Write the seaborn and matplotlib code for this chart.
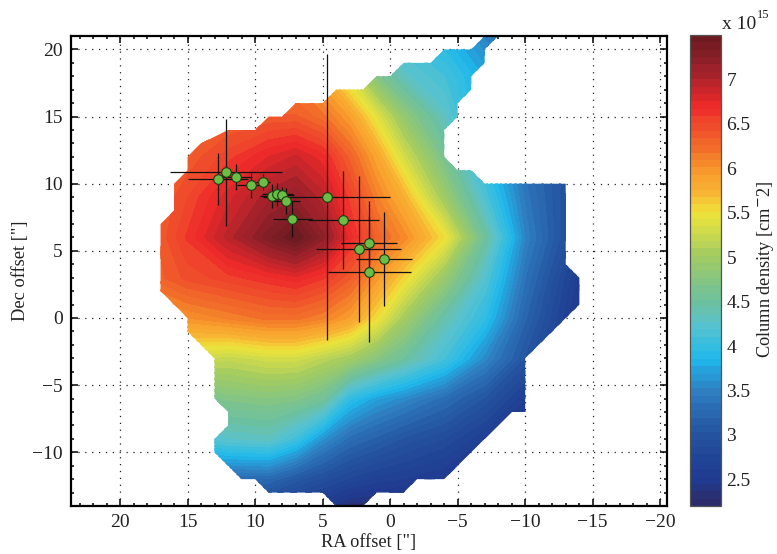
# column density map with clump positions
import numpy as np
import pandas as pd
import matplotlib
matplotlib.use("Agg")
import matplotlib.pyplot as plt
import seaborn as sns
from matplotlib.colors import LinearSegmentedColormap
from matplotlib.patches import Polygon
from matplotlib.ticker import MultipleLocator

ra_grid = [18, 15, 12, 9, 7, 5, 3, 1, -1, -4, -7, -10, -14]
dec_grid = [21, 18, 15, 12, 9, 6, 3, 0, -3, -6, -9, -12, -14]

row_p21 = [6.0, 6.0, 6.0, 6.0, 5.8, 5.3, 4.8, 4.3, 4.05, 3.85, 3.5, 3.2, 2.9]
row_p18 = [6.1, 6.1, 6.15, 6.15, 6.1, 5.8, 5.3, 4.7, 4.3, 4.1, 3.75, 3.25, 2.9]
row_p15 = [6.15, 6.2, 6.3, 6.35, 6.35, 6.2, 5.9, 5.4, 4.85, 4.3, 3.7, 3.2, 2.9]
row_p12 = [6.2, 6.35, 6.55, 6.75, 6.85, 6.7, 6.3, 5.85, 5.3, 4.6, 3.9, 3.3, 2.9]
row_p9 = [6.25, 6.5, 6.8, 7.05, 7.15, 6.95, 6.55, 6.1, 5.75, 4.95, 4.15, 3.4, 2.8]
row_p6 = [6.25, 6.6, 6.95, 7.3, 7.5, 7.2, 6.7, 6.3, 6.05, 5.5, 4.5, 3.5, 2.75]
row_p3 = [6.25, 6.45, 6.55, 6.65, 6.72, 6.6, 6.35, 5.95, 5.55, 4.9, 4.2, 3.35, 2.55]
row_0 = [5.85, 6.0, 6.1, 6.2, 6.2, 6.1, 5.9, 5.5, 5.0, 4.4, 3.95, 3.2, 2.45]
row_m3 = [5.4, 5.3, 5.2, 5.3, 5.3, 5.15, 5.0, 4.75, 4.5, 4.1, 3.55, 3.0, 2.4]
row_m6 = [4.4, 4.5, 4.7, 4.75, 4.7, 4.55, 3.95, 3.7, 3.55, 3.3, 3.0, 2.6, 2.25]
row_m9 = [4.0, 4.1, 4.25, 4.3, 4.05, 3.6, 3.3, 3.15, 3.0, 2.85, 2.6, 2.4, 2.25]
row_m12 = [3.2, 3.2, 3.25, 3.25, 3.05, 2.9, 2.75, 2.65, 2.6, 2.5, 2.4, 2.3, 2.25]
row_m14 = [2.9, 2.9, 2.9, 2.8, 2.65, 2.5, 2.3, 2.3, 2.3, 2.25, 2.25, 2.25, 2.25]

# outline of the mapped area
edge_ra = [-7, -6, -4, -3, -1, 0, 1, 2, 4, 5, 7, 8, 9, 10, 12, 14, 15, 15, 16, 16, 17, 17, 15, 15, 13, 13,
           12, 12, 13, 13, 11, 10, 9, 5, 4, 2, 1, -1, -2, -4, -9, -10, -10, -14, -14, -13, -13, -7, -6, -5, -4, -4,
           -5, -5, -6, -6, -7, -7, -8]
edge_dec = [21, 20, 20, 19, 19, 18, 18, 17, 17, 16, 16, 15, 15, 14, 14, 13, 12, 11, 10, 8, 7, 2, 0, -1, -3, -6,
            -7, -8, -9, -10, -12, -12, -13, -13, -14, -14, -13, -13, -12, -12, -7, -7, -3, 1, 3, 4, 10, 10, 11, 11, 12, 14,
            15, 16, 17, 18, 19, 20, 21]

pt_ra = [12.74, 12.15, 11.41, 10.3, 9.41, 8.74, 8.35, 8.02, 7.7, 7.23, 4.69, 3.46, 2.32, 1.56, 0.47, 1.53]
pt_dec = [10.35, 10.85, 10.5, 9.9, 10.13, 9.08, 9.2, 9.13, 8.74, 7.37, 9.0, 7.3, 5.14, 5.58, 4.42, 3.45]
pt_ra_err = [2.2, 4.15, 1.17, 1.02, 0.54, 0.9, 1.17, 0.9, 1.0, 1.42, 4.7, 2.6, 3.16, 2.05, 2.06, 3.1]
pt_dec_err = [1.96, 4.0, 1.0, 0.93, 0.6, 0.87, 0.87, 0.66, 0.96, 1.36, 10.65, 3.66, 5.42, 2.0, 3.51, 5.26]

cmap_vals = [2.2, 2.5, 3.0, 3.5, 3.85, 4.0, 4.25, 4.5, 5.0, 5.5, 5.75, 6.0, 6.25, 6.5, 6.7, 6.85, 7.0, 7.25, 7.5]
cmap_cols = ["#2e2a66", "#1f3a8f", "#24529f", "#2e7fc1", "#1fb8ec", "#34bde0", "#5cc3cc", "#6cc0a0", "#a0cb63",
             "#efe43a", "#f9b233", "#f7962c", "#f26a2a", "#ef4a2c", "#ee2a2a", "#d4262a", "#b0232c", "#8a1f28", "#6a1a20"]
cbar_ticks = [2.5, 3, 3.5, 4, 4.5, 5, 5.5, 6, 6.5, 7]
cbar_labels = ["2.5", "3", "3.5", "4", "4.5", "5", "5.5", "6", "6.5", "7"]

sns.set_theme(style="ticks")
plt.rcParams["font.family"] = ["Liberation Serif", "DejaVu Serif"]

field = np.array([row_p21, row_p18, row_p15, row_p12, row_p9, row_p6, row_p3, row_0, row_m3, row_m6, row_m9, row_m12, row_m14])
points = pd.DataFrame({"ra": pt_ra, "dec": pt_dec})
cmap = LinearSegmentedColormap.from_list(
    "density", [((v - 2.2) / 5.3, c) for v, c in zip(cmap_vals, cmap_cols)], N=256)

fig = plt.figure(figsize=(7.77, 5.54), dpi=100)
ax = fig.add_axes([71 / 777, 1 - 506 / 554, (667 - 71) / 777, (506 - 36) / 554])
cax = fig.add_axes([690 / 777, 1 - 506 / 554, 31 / 777, (506 - 35) / 554])

levels = np.linspace(2.2, 7.5, 65)
cf = ax.contourf(ra_grid, dec_grid, field, levels=levels, cmap=cmap, zorder=1)
cf.set_edgecolor("face")
outline = Polygon(np.column_stack([edge_ra, edge_dec]), closed=True, transform=ax.transData)
cf.set_clip_path(outline)

ax.errorbar(pt_ra, pt_dec, xerr=pt_ra_err, yerr=pt_dec_err, fmt="none", ecolor="#111111", elinewidth=0.9, capsize=0, zorder=3)
sns.scatterplot(data=points, x="ra", y="dec", ax=ax, s=48, color="#6abd45", edgecolor="#1d3b12", linewidth=0.8, zorder=4, clip_on=False)

ax.set_xlim(23.63, -20.5)
ax.set_ylim(-14, 21)
ax.set_axisbelow(True)
ax.xaxis.set_major_locator(MultipleLocator(5))
ax.xaxis.set_minor_locator(MultipleLocator(1))
ax.yaxis.set_major_locator(MultipleLocator(5))
ax.yaxis.set_minor_locator(MultipleLocator(1))
ax.grid(True, which="major", color="#222222", linestyle=(0, (1, 4.5)), linewidth=0.9)
ax.tick_params(which="major", direction="in", length=5, width=1.1, top=True, right=True, labelsize=14, pad=6, color="black")
ax.tick_params(which="minor", direction="in", length=2.5, width=1.1, top=True, right=True, color="black")
for side in ax.spines.values():
    side.set_linewidth(1.6)
    side.set_color("black")
ax.set_xlabel('RA offset ["]', fontsize=13.2, labelpad=2, color="#222222")
ax.set_ylabel('Dec offset ["]', fontsize=13.2, labelpad=2, color="#222222")
for lab in ax.get_xticklabels() + ax.get_yticklabels():
    lab.set_color("#222222")

cbar = fig.colorbar(cf, cax=cax)
cbar.set_ticks(cbar_ticks, labels=cbar_labels)
cbar.outline.set_edgecolor("#555555")
cbar.outline.set_linewidth(0.9)
cax.tick_params(direction="in", length=3.5, width=0.9, left=True, right=True, labelsize=14, pad=4, color="black", labelcolor="#222222")
fig.text(766 / 777, 1 - 269 / 554, r"Column density [cm$^{-}$2]", rotation=90, fontsize=13.2, ha="center", va="center", color="#222222")
fig.text(722 / 777, 1 - 29 / 554, "x 10", fontsize=14, ha="left", va="baseline", color="#222222")
fig.text(757 / 777, 1 - 18 / 554, "15", fontsize=9, ha="left", va="baseline", color="#222222")

fig.savefig("out.png", dpi=100)
